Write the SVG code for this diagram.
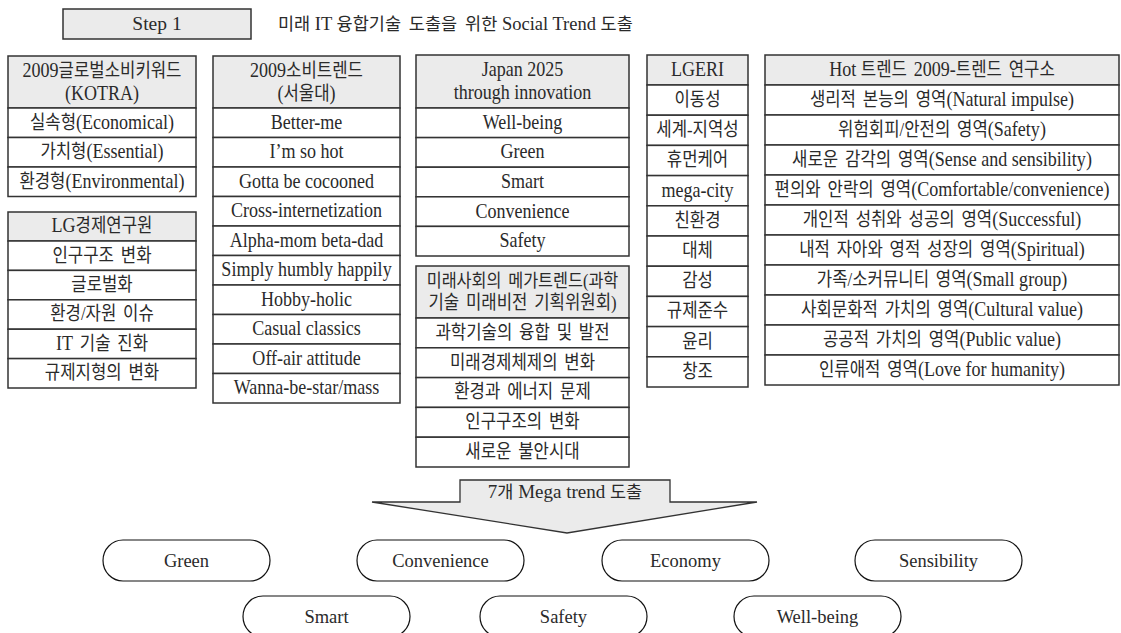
<svg xmlns="http://www.w3.org/2000/svg" width="1121" height="633" viewBox="0 0 1121 633">
<style>
.h{fill:#ebebeb;stroke:#333;stroke-width:1.5}
.c{fill:#fff;stroke:#333;stroke-width:1.5}
.t{font-family:"Liberation Serif","Noto Sans CJK KR",serif;font-size:20.5px;fill:#2a2a2a;text-anchor:middle}
.k{font-size:19px;word-spacing:3px}
.o{fill:#fff;stroke:#111;stroke-width:1.2}
.u{font-family:"Liberation Serif","Noto Sans CJK KR",serif;font-size:18.5px;fill:#2a2a2a;text-anchor:middle}
.uk{font-size:17.5px;word-spacing:3.5px}
</style>
<rect x="0" y="0" width="1121" height="633" fill="#fff"/>

<g id="step1">
<rect class="h" x="63" y="9" width="188" height="30"/>
<text class="u" x="157" y="30" style="font-size:19.5px">Step 1</text>
</g>
<g id="title">
<text class="u" x="278" y="30" style="text-anchor:start;font-size:18.5px"><tspan class="uk">미래</tspan> IT <tspan class="uk">융합기술 도출을 위한</tspan> Social Trend <tspan class="uk">도출</tspan></text>
</g>

<g id="kotra">
<rect class="h" x="8" y="56" width="188" height="52"/>
<rect class="c" x="8" y="108" width="188" height="29.5"/>
<rect class="c" x="8" y="137.5" width="188" height="29.5"/>
<rect class="c" x="8" y="167" width="188" height="29.5"/>
<g transform="translate(102 0) scale(0.88 1)">
<text class="t" y="77">2009<tspan class="k">글로벌소비키워드</tspan></text>
<text class="t" y="100">(KOTRA)</text>
<text class="t" y="128.75"><tspan class="k">실속형</tspan>(Economical)</text>
<text class="t" y="158.25"><tspan class="k">가치형</tspan>(Essential)</text>
<text class="t" y="187.75"><tspan class="k">환경형</tspan>(Environmental)</text>
</g>
</g>

<g id="lgeri-kr">
<rect class="h" x="8" y="212" width="188" height="29"/>
<rect class="c" x="8" y="241" width="188" height="29.4"/>
<rect class="c" x="8" y="270.4" width="188" height="29.4"/>
<rect class="c" x="8" y="299.8" width="188" height="29.4"/>
<rect class="c" x="8" y="329.2" width="188" height="29.4"/>
<rect class="c" x="8" y="358.6" width="188" height="29.4"/>
<g transform="translate(102 0) scale(0.88 1)">
<text class="t" y="232.5">LG<tspan class="k">경제연구원</tspan></text>
<text class="t" y="261.7"><tspan class="k">인구구조 변화</tspan></text>
<text class="t" y="291.1"><tspan class="k">글로벌화</tspan></text>
<text class="t" y="320.5"><tspan class="k">환경/자원 이슈</tspan></text>
<text class="t" y="349.9">IT<tspan class="k"> 기술 진화</tspan></text>
<text class="t" y="379.3"><tspan class="k">규제지형의 변화</tspan></text>
</g>
</g>

<g id="snu">
<rect class="h" x="213" y="56" width="187" height="52"/>
<rect class="c" x="213" y="108" width="187" height="29.5"/>
<rect class="c" x="213" y="137.5" width="187" height="29.5"/>
<rect class="c" x="213" y="167" width="187" height="29.5"/>
<rect class="c" x="213" y="196.5" width="187" height="29.5"/>
<rect class="c" x="213" y="226" width="187" height="29.5"/>
<rect class="c" x="213" y="255.5" width="187" height="29.5"/>
<rect class="c" x="213" y="285" width="187" height="29.5"/>
<rect class="c" x="213" y="314.5" width="187" height="29.5"/>
<rect class="c" x="213" y="344" width="187" height="29.5"/>
<rect class="c" x="213" y="373.5" width="187" height="29.5"/>
<g transform="translate(306.5 0) scale(0.88 1)">
<text class="t" y="77">2009<tspan class="k">소비트렌드</tspan></text>
<text class="t" y="100">(<tspan class="k">서울대</tspan>)</text>
<text class="t" y="128.75">Better-me</text>
<text class="t" y="158.25">I’m so hot</text>
<text class="t" y="187.75">Gotta be cocooned</text>
<text class="t" y="217.25">Cross-internetization</text>
<text class="t" y="246.75">Alpha-mom beta-dad</text>
<text class="t" y="276.25">Simply humbly happily</text>
<text class="t" y="305.75">Hobby-holic</text>
<text class="t" y="335.25">Casual classics</text>
<text class="t" y="364.75">Off-air attitude</text>
<text class="t" y="394.25">Wanna-be-star/mass</text>
</g>
</g>

<g id="japan">
<rect class="h" x="416" y="55" width="213" height="53"/>
<rect class="c" x="416" y="108" width="213" height="29.6"/>
<rect class="c" x="416" y="137.6" width="213" height="29.6"/>
<rect class="c" x="416" y="167.2" width="213" height="29.6"/>
<rect class="c" x="416" y="196.8" width="213" height="29.6"/>
<rect class="c" x="416" y="226.4" width="213" height="29.6"/>
<g transform="translate(522.5 0) scale(0.88 1)">
<text class="t" y="76">Japan 2025</text>
<text class="t" y="99">through innovation</text>
<text class="t" y="128.8">Well-being</text>
<text class="t" y="158.4">Green</text>
<text class="t" y="188">Smart</text>
<text class="t" y="217.6">Convenience</text>
<text class="t" y="247.2">Safety</text>
</g>
</g>

<g id="future">
<rect class="h" x="416" y="266" width="213" height="52"/>
<rect class="c" x="416" y="318" width="213" height="29.8"/>
<rect class="c" x="416" y="347.8" width="213" height="29.8"/>
<rect class="c" x="416" y="377.6" width="213" height="29.8"/>
<rect class="c" x="416" y="407.4" width="213" height="29.8"/>
<rect class="c" x="416" y="437.2" width="213" height="29.8"/>
<g transform="translate(522.5 0) scale(0.88 1)">
<text class="t" y="287"><tspan class="k" style="font-size:18.5px">미래사회의 메가트렌드(과학</tspan></text>
<text class="t" y="309"><tspan class="k">기술 미래비전 기획위원회)</tspan></text>
<text class="t" y="338.9"><tspan class="k">과학기술의 융합 및 발전</tspan></text>
<text class="t" y="368.7"><tspan class="k">미래경제체제의 변화</tspan></text>
<text class="t" y="398.5"><tspan class="k">환경과 에너지 문제</tspan></text>
<text class="t" y="428.3"><tspan class="k">인구구조의 변화</tspan></text>
<text class="t" y="458.1"><tspan class="k">새로운 불안시대</tspan></text>
</g>
</g>

<g id="lgeri">
<rect class="h" x="647" y="55" width="101" height="30"/>
<rect class="c" x="647" y="85" width="101" height="30.2"/>
<rect class="c" x="647" y="115.2" width="101" height="30.2"/>
<rect class="c" x="647" y="145.4" width="101" height="30.2"/>
<rect class="c" x="647" y="175.6" width="101" height="30.2"/>
<rect class="c" x="647" y="205.8" width="101" height="30.2"/>
<rect class="c" x="647" y="236" width="101" height="30.2"/>
<rect class="c" x="647" y="266.2" width="101" height="30.2"/>
<rect class="c" x="647" y="296.4" width="101" height="30.2"/>
<rect class="c" x="647" y="326.6" width="101" height="30.2"/>
<rect class="c" x="647" y="356.8" width="101" height="30.2"/>
<g transform="translate(697.5 0) scale(0.88 1)">
<text class="t" y="76">LGERI</text>
<text class="t" y="106.1"><tspan class="k">이동성</tspan></text>
<text class="t" y="136.3"><tspan class="k">세계-지역성</tspan></text>
<text class="t" y="166.5"><tspan class="k">휴먼케어</tspan></text>
<text class="t" y="196.7">mega-city</text>
<text class="t" y="226.9"><tspan class="k">친환경</tspan></text>
<text class="t" y="257.1"><tspan class="k">대체</tspan></text>
<text class="t" y="287.3"><tspan class="k">감성</tspan></text>
<text class="t" y="317.5"><tspan class="k">규제준수</tspan></text>
<text class="t" y="347.7"><tspan class="k">윤리</tspan></text>
<text class="t" y="377.9"><tspan class="k">창조</tspan></text>
</g>
</g>

<g id="hottrend">
<rect class="h" x="765" y="55" width="354" height="30"/>
<rect class="c" x="765" y="85" width="354" height="30"/>
<rect class="c" x="765" y="115" width="354" height="30"/>
<rect class="c" x="765" y="145" width="354" height="30"/>
<rect class="c" x="765" y="175" width="354" height="30"/>
<rect class="c" x="765" y="205" width="354" height="30"/>
<rect class="c" x="765" y="235" width="354" height="30"/>
<rect class="c" x="765" y="265" width="354" height="30"/>
<rect class="c" x="765" y="295" width="354" height="30"/>
<rect class="c" x="765" y="325" width="354" height="30"/>
<rect class="c" x="765" y="355" width="354" height="30"/>
<g transform="translate(942 0) scale(0.88 1)">
<text class="t" y="76">Hot <tspan class="k">트렌드 </tspan>2009-<tspan class="k">트렌드 연구소</tspan></text>
<text class="t" y="106"><tspan class="k">생리적 본능의 영역</tspan>(Natural impulse)</text>
<text class="t" y="136"><tspan class="k">위험회피/안전의 영역</tspan>(Safety)</text>
<text class="t" y="166"><tspan class="k">새로운 감각의 영역</tspan>(Sense and sensibility)</text>
<text class="t" y="196"><tspan class="k">편의와 안락의 영역</tspan>(Comfortable/convenience)</text>
<text class="t" y="226"><tspan class="k">개인적 성취와 성공의 영역</tspan>(Successful)</text>
<text class="t" y="256"><tspan class="k">내적 자아와 영적 성장의 영역</tspan>(Spiritual)</text>
<text class="t" y="286"><tspan class="k">가족/소커뮤니티 영역</tspan>(Small group)</text>
<text class="t" y="316"><tspan class="k">사회문화적 가치의 영역</tspan>(Cultural value)</text>
<text class="t" y="346"><tspan class="k">공공적 가치의 영역</tspan>(Public value)</text>
<text class="t" y="376"><tspan class="k">인류애적 영역</tspan>(Love for humanity)</text>
</g>
</g>

<g id="connectors">
<polygon points="372,502 460,502 460,480 670,480 670,502 757,502 567,533" fill="#ebebeb" stroke="#333" stroke-width="1.3" stroke-linejoin="miter"/>
<text class="u" x="565" y="498" style="font-size:19px">7<tspan class="uk">개</tspan> Mega trend <tspan class="uk">도출</tspan></text>
</g>

<g id="green"><path class="o" d="M123 540 H250 A20 20.5 0 0 1 250 581 H123 A20 20.5 0 0 1 123 540 Z"/><text class="u" x="186.5" y="567">Green</text></g>
<g id="convenience"><path class="o" d="M377 540 H504 A20 20.5 0 0 1 504 581 H377 A20 20.5 0 0 1 377 540 Z"/><text class="u" x="440.5" y="567">Convenience</text></g>
<g id="economy"><path class="o" d="M622 540 H749 A20 20.5 0 0 1 749 581 H622 A20 20.5 0 0 1 622 540 Z"/><text class="u" x="685.5" y="567">Economy</text></g>
<g id="sensibility"><path class="o" d="M875 540 H1002 A20 20.5 0 0 1 1002 581 H875 A20 20.5 0 0 1 875 540 Z"/><text class="u" x="938.5" y="567">Sensibility</text></g>
<g id="smart"><path class="o" d="M263 596 H390 A20 20.5 0 0 1 390 637 H263 A20 20.5 0 0 1 263 596 Z"/><text class="u" x="326.5" y="623">Smart</text></g>
<g id="safety"><path class="o" d="M500 596 H627 A20 20.5 0 0 1 627 637 H500 A20 20.5 0 0 1 500 596 Z"/><text class="u" x="563.5" y="623">Safety</text></g>
<g id="wellbeing"><path class="o" d="M754 596 H881 A20 20.5 0 0 1 881 637 H754 A20 20.5 0 0 1 754 596 Z"/><text class="u" x="817.5" y="623">Well-being</text></g>
</svg>
